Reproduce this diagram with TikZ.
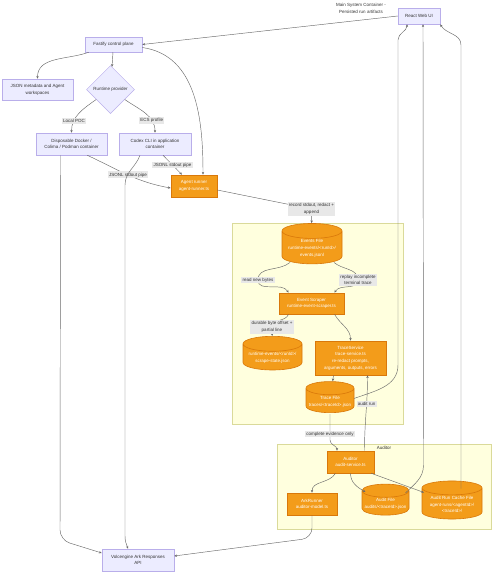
\documentclass[tikz,border=0pt]{standalone}
\usepackage{fontspec}
\setmainfont{Liberation Sans}
\usetikzlibrary{shapes.geometric,arrows.meta}
\definecolor{boxfill}{HTML}{ECECFF}
\definecolor{boxline}{HTML}{B9AEEA}
\definecolor{runfill}{HTML}{F39C1A}
\definecolor{runline}{HTML}{D9780A}
\definecolor{groupfill}{HTML}{FFFFDE}
\definecolor{groupline}{HTML}{DADA9A}
\definecolor{lblfill}{HTML}{E8E8E8}
\definecolor{edgeline}{HTML}{6A6A6A}

\begin{document}
\begin{tikzpicture}[x=1pt,y=1pt,
    font=\fontsize{4.5}{6.7}\selectfont,
    every node/.style={align=center, inner sep=1pt, text=black!80},
    plain/.style={draw=boxline, fill=boxfill, line width=0.5pt},
    runbox/.style={draw=runline, fill=runfill, text=white, line width=0.6pt},
    store/.style={cylinder, shape border rotate=90, aspect=0.3, draw=runline, fill=runfill, text=white, line width=0.6pt},
    group/.style={draw=groupline, fill=groupfill, line width=0.5pt},
    lbl/.style={fill=lblfill, inner sep=1.3pt, sharp corners},
    flow/.style={draw=edgeline, line width=0.45pt, -{Stealth[length=2.8pt,width=2.4pt]}}]

    \useasboundingbox (0,0) rectangle (498,-573);

    \draw[group] (232,-223) rectangle (403,-424);
    \node (scrapertitle) at (318,-227.5) {Scraper};
    \draw[group] (277,-444) rectangle (491,-529);
    \node (auditortitle) at (384,-447.5) {Auditor};

    \node (title) at (361,-8.5) {Main System Container -\\Persisted run artifacts};
    \node[plain, minimum width=42pt, minimum height=16pt] (react) at (419,-16) {React Web UI};
    \node[plain, minimum width=57pt, minimum height=15pt] (fastify) at (113.5,-44.5) {Fastify control plane};
    \node[plain, minimum width=71pt, minimum height=21pt] (meta) at (37.5,-89.5) {JSON metadata and Agent\\workspaces};
    \node[plain, diamond, minimum width=48pt, minimum height=48pt] (provider) at (110.5,-89.5) {Runtime provider};
    \node[plain, minimum width=71pt, minimum height=22pt] (docker) at (71.5,-144) {Disposable Docker /\\Colima / Podman container};
    \node[plain, minimum width=72pt, minimum height=22pt] (codex) at (155,-144) {Codex CLI in application\\container};
    \node[runbox, minimum width=46pt, minimum height=22pt] (runner) at (194,-186) {Agent runner\\agent-runner.ts};

    \node[store, minimum width=60pt, minimum height=37pt] (events) at (312,-248.5) {Events File\\runtime-events/<runId>/\\events.jsonl};
    \node[runbox, minimum width=65pt, minimum height=21pt] (scraper) at (311.5,-303.5) {Event Scraper\\runtime-event-scraper.ts};
    \node[store, minimum width=59pt, minimum height=30pt] (scrapestate) at (272.5,-358) {runtime-events/<runId>/\\scrape-state.json};
    \node[runbox, minimum width=71pt, minimum height=34pt] (traceservice) at (350.5,-358) {TraceService\\trace-service.ts\\re-redact prompts,\\arguments, outputs, errors};
    \node[store, minimum width=48pt, minimum height=25pt] (tracefile) at (330,-401.5) {Trace File\\traces/<traceId>.json};

    \node[runbox, minimum width=47pt, minimum height=22pt] (auditor) at (350.5,-462) {Auditor\\audit-service.ts};
    \node[runbox, minimum width=50pt, minimum height=22pt] (ark) at (312,-504) {ArkRunner\\auditor-model.ts};
    \node[store, minimum width=47pt, minimum height=28pt] (auditfile) at (385.5,-504) {Audit File\\audits/<traceId>.json};
    \node[store, minimum width=60pt, minimum height=35pt] (cache) at (452,-504.5) {Audit Run Cache File\\agent-runs/<agentId>/\\<traceId>/};
    \node[plain, minimum width=72pt, minimum height=22pt] (volc) at (138,-560) {Volcengine Ark Responses\\API};

    \draw[flow] (react.west) -- (fastify.east);
    \draw[flow] ([xshift=4pt]fastify.south west) to[out=-160,in=90] (meta.north);
    \draw[flow] (fastify) -- (provider);
    \draw[flow] ([yshift=-3pt]fastify.east) to[out=-8,in=90] ([xshift=9pt]runner.north);
    \draw[flow] (provider) to[out=-145,in=90] node[lbl,pos=0.72]{Local POC} (docker);
    \draw[flow] (provider) to[out=-35,in=90] node[lbl,pos=0.72]{ECS profile} (codex);
    \draw[flow] ([xshift=-20pt]docker.south east) to[out=-25,in=170] node[lbl]{JSONL stdout pipe} ([yshift=-2pt]runner.west);
    \draw[flow] ([xshift=8pt]codex.south) -- node[lbl]{JSONL stdout pipe} ([xshift=-12pt]runner.north);
    \draw[flow, rounded corners=10pt] ([xshift=-11pt]docker.south) -- (60,-540) -- ([yshift=7pt]volc.west);
    \draw[flow] ([xshift=-15pt]codex.south) to[out=-110,in=90] (125,-185) -- (125,-536) to[out=-90,in=110] ([xshift=-10pt]volc.north);

    \draw[flow, rounded corners=6pt] ([yshift=-4pt]runner.east) -- (311.5,-209) node[lbl]{record stdout, redact +\\append} -- (events);
    \draw[flow] ([shift={(-22pt,-14pt)}]events.center) to[out=-140,in=90] (258,-280) node[lbl]{read new bytes} to[out=-90,in=120] ([xshift=-23pt]scraper.north);
    \draw[flow] ([shift={(22pt,-14pt)}]events.center) to[out=-40,in=90] (358,-280) node[lbl]{replay incomplete\\terminal trace} to[out=-90,in=60] ([xshift=23pt]scraper.north);
    \draw[flow] ([xshift=-23pt]scraper.south) to[out=-110,in=90] (272,-327) node[lbl]{durable byte offset +\\partial line} -- (scrapestate);
    \draw[flow] ([xshift=23pt]scraper.south) to[out=-60,in=90] (traceservice);
    \draw[flow] ([xshift=-17pt]traceservice.south) -- (tracefile);
    \draw[flow] ([shift={(0pt,-12.5pt)}]tracefile.center) -- (330,-434) node[lbl]{complete evidence only} -- (330,-440) to[out=-90,in=90] ([xshift=-13.5pt]auditor.north);
    \draw[flow] ([xshift=14pt]auditor.north) to[out=90,in=-90] node[lbl,pos=0.63]{audit run} ([xshift=17pt]traceservice.south);
    \draw[flow] ([shift={(24pt,3pt)}]tracefile.center) to[out=20,in=-90] (398,-365) -- (398,-40) to[out=90,in=-90] ([xshift=-12pt]react.south);

    \draw[flow] ([xshift=-15pt]auditor.south) to[out=-120,in=90] (ark);
    \draw[flow] (auditor.south) to[out=-90,in=150] ([shift={(-20pt,12pt)}]auditfile.center);
    \draw[flow] ([xshift=-3pt]auditor.south east) -- ([shift={(-28pt,12pt)}]cache.center);
    \draw[flow] ([shift={(20pt,11pt)}]auditfile.center) to[out=45,in=-90] (423.5,-465) -- ([xshift=4pt]react.south);
    \draw[flow] ([shift={(9pt,16pt)}]cache.center) -- (461,-45) to[out=90,in=-60] (react.south east);
    \draw[flow, rounded corners=10pt] (ark.south) -- (312,-538) -- ([yshift=4pt]volc.east);
\end{tikzpicture}
\end{document}
